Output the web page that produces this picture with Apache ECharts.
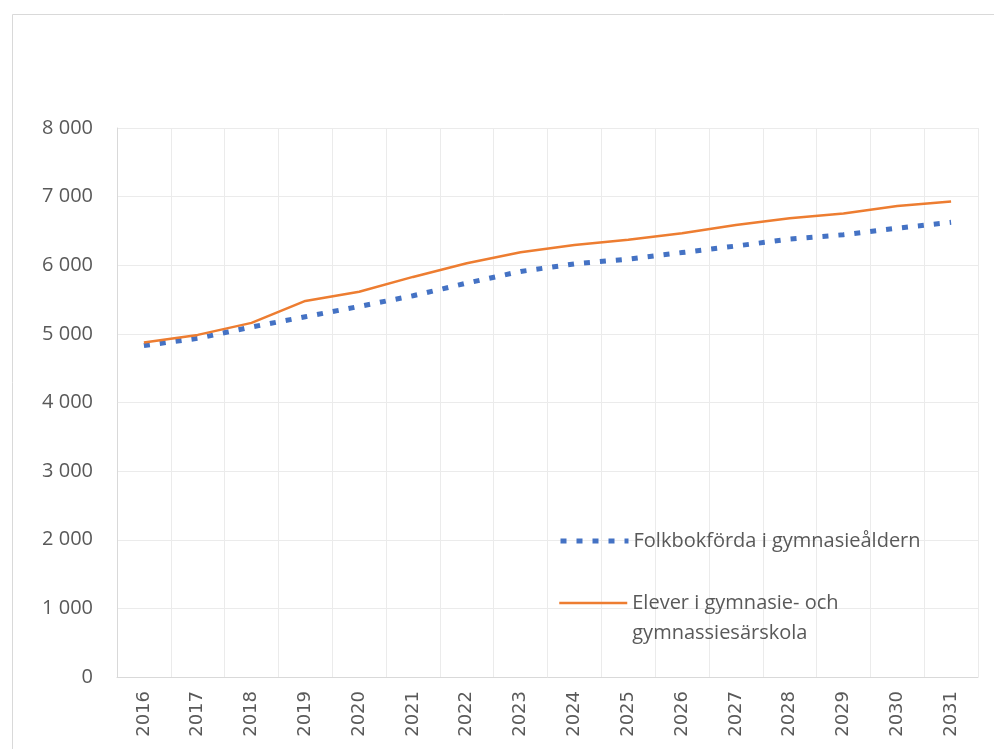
<!DOCTYPE html>
<html><head><meta charset="utf-8">
<script src="https://cdn.jsdelivr.net/npm/echarts@6/dist/echarts.min.js"></script>
<style>html,body{margin:0;padding:0;background:#fff}#c{width:994px;height:749px}</style>
</head><body><div id="c"></div>
<script>
const years = ['2016','2017','2018','2019','2020','2021','2022','2023','2024','2025','2026','2027','2028','2029','2030','2031'];
const folkbokforda = [4830, 4935, 5100, 5250, 5400, 5555, 5740, 5910, 6020, 6090, 6185, 6280, 6380, 6445, 6540, 6625];
const elever = [4875, 4985, 5160, 5480, 5615, 5830, 6030, 6190, 6295, 6370, 6465, 6585, 6685, 6755, 6865, 6930];
const yTicks = { min: 0, max: 8000, interval: 1000 };
const seriesNames = ['Folkbokförda i gymnasieåldern', 'Elever i gymnasie- och\ngymnassiesärskola'];

const chart = echarts.init(document.getElementById('c'));
const txt = '#595959';
const legendFont = { color: txt, fontSize: 20, fontFamily: 'Open Sans, sans-serif' };
chart.setOption({
  animation: false,
  textStyle: { fontFamily: 'Open Sans, Noto Sans, sans-serif' },
  graphic: [{
    type: 'rect', left: 10, top: 12, shape: { width: 1000, height: 800 },
    style: { fill: 'none', stroke: '#d9d9d9', lineWidth: 1 }, silent: true
  }],
  grid: { left: 117, right: 16, top: 128, bottom: 72 },
  legend: [
    {
      left: 553, top: 523, itemWidth: 68, itemHeight: 26, itemGap: 0,
      itemStyle: { opacity: 0 },
      lineStyle: { width: 5, type: [6, 10], cap: 'butt' },
      textStyle: Object.assign({ lineHeight: 26 }, legendFont),
      data: [seriesNames[0]]
    },
    {
      left: 553, top: 553, itemWidth: 68, itemHeight: 26, itemGap: 0,
      itemStyle: { opacity: 0 },
      lineStyle: { width: 2.5 },
      formatter: n => '{e| }\n' + n,
      textStyle: Object.assign({ lineHeight: 30, rich: { e: { height: 30, lineHeight: 30, fontSize: 20 } } }, legendFont),
      data: [seriesNames[1]]
    }
  ],
  xAxis: {
    type: 'category', data: years, boundaryGap: true,
    axisLine: { lineStyle: { color: '#d9d9d9' } },
    axisTick: { show: false },
    splitLine: { show: true, interval: 0, lineStyle: { color: '#ebebeb' } },
    axisLabel: { rotate: 90, color: txt, fontSize: 18, fontFamily: 'DejaVu Sans, sans-serif', margin: 14, interval: 0 }
  },
  yAxis: {
    type: 'value', min: yTicks.min, max: yTicks.max, interval: yTicks.interval,
    axisLine: { show: true, lineStyle: { color: '#d9d9d9' } },
    axisTick: { show: false },
    splitLine: { lineStyle: { color: '#ebebeb' } },
    axisLabel: {
      color: txt, fontSize: 20, margin: 24,
      formatter: v => v >= 1000 ? Math.floor(v / 1000) + ' ' + String(v % 1000).padStart(3, '0') : String(v)
    }
  },
  series: [
    {
      name: seriesNames[0], type: 'line', data: folkbokforda, symbol: 'none',
      itemStyle: { color: '#4472C4' },
      lineStyle: { color: '#4472C4', width: 5, type: [6, 10], cap: 'butt' }
    },
    {
      name: seriesNames[1], type: 'line', data: elever, symbol: 'none',
      itemStyle: { color: '#ED7D31' },
      lineStyle: { color: '#ED7D31', width: 2.5 }
    }
  ]
});
</script></body></html>
